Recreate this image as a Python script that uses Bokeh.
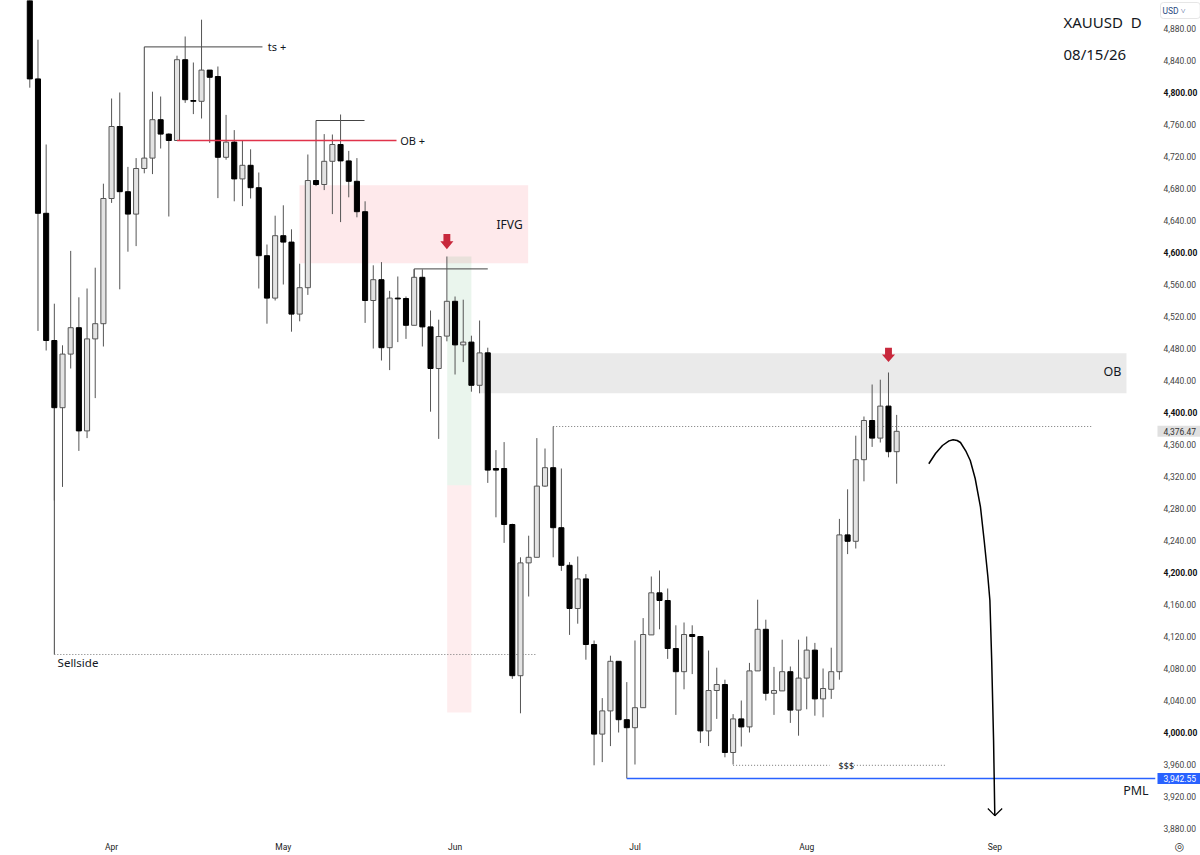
from bokeh.core.properties import value
from bokeh.embed import file_html
from bokeh.models import ColumnDataSource, FixedTicker, Label, NumeralTickFormatter, Range1d
from bokeh.plotting import figure
from bokeh.resources import INLINE

# daily bars, one row per session
opens = [4960, 4817, 4649, 4490, 4406, 4473, 4506, 4377, 4492, 4511, 4667.5, 4757.5, 4676, 4648, 4705, 4718, 4766, 4748,
         4740, 4841, 4790, 4789, 4828, 4820, 4719, 4738, 4692, 4709, 4681, 4596, 4543, 4621, 4613, 4523, 4556, 4690,
         4685, 4714, 4735, 4714.5, 4689, 4651, 4540, 4566, 4481, 4543, 4542.5, 4509, 4569, 4507, 4455, 4495.5, 4539,
         4484.5, 4488, 4434, 4474.6, 4330, 4330, 4260, 4071, 4212, 4219, 4308, 4331, 4256, 4209, 4155, 4192, 4110, 3998,
         4027, 4089, 4016, 4006, 4031, 4122, 4174.6, 4165, 4105, 4076, 4122.5, 4120, 4002, 4052.5, 4060, 3975, 4017,
         4007, 4077, 4129, 4049, 4052, 4076, 4028, 4068, 4103, 4042, 4054, 4076, 4247, 4239, 4341, 4390, 4368, 4408, 4351]
highs = [4975, 4866, 4735, 4536, 4484, 4602, 4544, 4555, 4581, 4686, 4792.5, 4800, 4707, 4718, 4718, 4801, 4795, 4749,
         4846, 4870, 4837.5, 4891, 4828, 4832.5, 4772, 4753, 4740, 4729, 4700, 4610, 4646, 4659, 4629, 4586, 4722.5, 4690,
         4748, 4747.5, 4772.5, 4727, 4718, 4664, 4584, 4588, 4552, 4570, 4545, 4579, 4579, 4527.5, 4516, 4595, 4545,
         4541, 4496, 4515, 4481, 4353, 4363, 4261, 4219, 4246, 4368, 4355, 4382.5, 4330, 4213, 4220, 4198, 4115, 4043,
         4096, 4089, 4063, 4115, 4143, 4195, 4202.5, 4180, 4134, 4137.5, 4134, 4120, 4102.5, 4081, 4066, 4023, 4040,
         4087, 4166, 4141, 4082, 4116, 4082.5, 4116, 4120, 4112, 4080, 4106, 4267, 4304, 4371, 4395, 4435, 4441, 4450, 4397]
lows = [4806, 4502, 4477.5, 4290, 4307, 4455, 4352, 4368, 4418, 4482.5, 4662, 4554, 4601, 4608, 4699, 4698, 4730, 4645,
        4740, 4787, 4773, 4767.5, 4737, 4668, 4716, 4664, 4658, 4667.5, 4555, 4511, 4540, 4560, 4501, 4514, 4547, 4683,
        4678, 4648, 4638, 4669, 4644, 4512, 4480, 4465, 4453, 4488, 4492, 4509, 4482.5, 4401, 4367, 4489, 4447.5,
        4463, 4426, 4424, 4312, 4269, 4237, 4067, 4024, 4170, 4219, 4307, 4219, 4202, 4122, 4136, 4091, 3959, 3963,
        3983, 4000, 3942.55, 3960, 4031, 4122, 4129, 4092, 4022, 4054, 4073, 3987, 3983, 4017, 3969, 3960, 3982.5,
        4000, 4077, 4040, 4022, 4052, 4012, 3996, 4029, 4021, 4019, 4042, 4066, 4223, 4230, 4314, 4357, 4362.5, 4344, 4311]
closes = [4817, 4649, 4490, 4406, 4473, 4506, 4377, 4492, 4511, 4667.5, 4757.5, 4676, 4648, 4705, 4718, 4766, 4748, 4740,
          4841, 4791, 4789, 4828, 4819, 4719, 4738, 4692, 4709, 4681, 4596, 4543, 4621, 4613, 4523, 4556, 4690, 4685,
          4714, 4735, 4714.5, 4689, 4651, 4540, 4566, 4481, 4543, 4542, 4509, 4569, 4507, 4455, 4495, 4539, 4484.5,
          4488, 4434, 4474.5, 4328, 4328, 4260, 4071, 4212, 4219, 4308, 4331, 4256, 4209, 4155, 4192, 4110, 3998, 4027,
          4089, 4016, 4006, 4031, 4122.5, 4174.6, 4165, 4105, 4076, 4122.5, 4120, 4002, 4052.5, 4060, 3975, 4017, 4007,
          4077, 4129, 4049, 4052.5, 4076, 4028, 4068, 4103, 4042, 4055, 4076, 4247, 4239, 4341, 4390, 4368, 4408, 4351, 4376.47]

month_ticks = [10, 31, 52, 74, 95, 118]
month_names = ["Apr", "May", "Jun", "Jul", "Aug", "Sep"]
price_ticks = list(range(3880, 4881, 40))
strong_ticks = [4000, 4200, 4400, 4600, 4800]

# drawings on top of the chart: zones, trend lines, dotted levels
zone_left = [32.98, 55.1, 51.04, 51.04]
zone_right = [60.94, 134.1, 54.0, 54.0]
zone_top = [4684, 4474, 4595, 4309]
zone_bottom = [4586.7, 4424, 4309, 4025]
zone_colors = ["#f23645", "#808080", "#2e9e4f", "#f23645"]
zone_alpha = [0.11, 0.17, 0.1, 0.09]

line_x0 = [14, 14, 35, 35, 47, 47, 3]
line_x1 = [14, 28.45, 35, 40.93, 47, 56, 3]
line_y0 = [4857, 4857, 4765, 4765, 4579.5, 4579.5, 4406]
line_y1 = [4718, 4857, 4690, 4765, 4569, 4579.5, 4097.5]

dot_x0 = [64, 3, 86, 100.4]
dot_x1 = [129.95, 61.96, 97.8, 112]
dot_y = [4382.5, 4097.5, 3959, 3959]

arrow_bar = [51, 105]
arrow_top = [4623, 4481]
arrow_neck = [4614, 4472.5]
arrow_tip = [4604, 4463]

curve_x = [109.93, 110.75, 111.6, 112.4, 112.9, 113.4, 113.8, 114.5, 115.0, 115.6, 116.25, 116.7, 117.15, 117.4, 117.62, 117.85, 118.0]
curve_y = [4335.9, 4348.75, 4358.75, 4364.5, 4365.9, 4365, 4362.5, 4351, 4340, 4317.5, 4281.6, 4240, 4195, 4165, 4090, 3990, 3896]
head_x = [117.15, 118.0, 118.9]
head_y = [3905, 3896, 3905]

note_text = ["ts +", "OB +", "IFVG", "OB", "Sellside", "$$$", "PML", "XAUUSD\u00a0 D", "08/15/26"]
note_x = [29.1, 45.3, 57.07, 131.3, 3.4, 98.9, 133.7, 126.4, 126.4]
note_y = [4857, 4740, 4635, 4451, 4087, 3959, 3928, 4888, 4848]
note_size = ["11px", "11px", "12px", "12.5px", "11.5px", "9px", "12.5px", "15px", "15px"]

bar_x = list(range(len(opens)))
bar_color = ["#000000" if c < o else "#e3e3e3" for o, c in zip(opens, closes)]
edge_color = ["#000000" if c < o else "#555555" for o, c in zip(opens, closes)]
source = ColumnDataSource(data=dict(
    x=bar_x,
    low=lows,
    high=highs,
    top=[max(o, c) for o, c in zip(opens, closes)],
    bottom=[min(o, c) for o, c in zip(opens, closes)],
    fill=bar_color,
    edge=edge_color,
))

p = figure(
    width=1200,
    height=855,
    frame_width=1155,
    frame_height=838,
    x_range=Range1d(-3.583, 137.65),
    y_range=Range1d(3867.5, 4915),
    y_axis_location="right",
    toolbar_location=None,
    output_backend="svg",
    min_border_left=0,
    min_border_top=0,
    min_border_right=45,
    min_border_bottom=17,
)
p.outline_line_color = None
p.grid.grid_line_color = None

p.quad(left=zone_left, right=zone_right, top=zone_top, bottom=zone_bottom,
       fill_color=zone_colors, fill_alpha=zone_alpha, line_color=None)

p.segment(x0=line_x0, y0=line_y0, x1=line_x1, y1=line_y1, line_color="#444444", line_width=1)
p.segment(x0=dot_x0, y0=dot_y, x1=dot_x1, y1=dot_y, line_color="#777777", line_width=1, line_dash="1 2")

p.segment(x0="x", y0="low", x1="x", y1="high", source=source, line_color="#555555", line_width=1)
p.vbar(x="x", top="top", bottom="bottom", width=0.62, source=source,
       fill_color="fill", line_color="edge", line_width=1)

p.line([18, 44.84], [4740, 4740], line_color="#e0334a", line_width=1.3)
p.line([73, 137.65], [3942.55, 3942.55], line_color="#2962ff", line_width=1.5)

for bar, top, neck, tip in zip(arrow_bar, arrow_top, arrow_neck, arrow_tip):
    p.patch(
        [bar - 0.42, bar + 0.42, bar + 0.42, bar + 0.8, bar, bar - 0.8, bar - 0.42],
        [top, top, neck, neck, tip, neck, neck],
        fill_color="#c8283c", line_color=None,
    )

p.line(curve_x, curve_y, line_color="#000000", line_width=1.5, line_join="round")
p.line(head_x, head_y, line_color="#000000", line_width=1.2)

p.text(x=note_x, y=note_y, text=note_text, text_font=value("Noto Sans"), text_font_size=note_size,
       text_color="#131722", text_baseline="middle", text_align="left")

# price scale, every 200 is printed darker so those go in as labels
p.yaxis.ticker = FixedTicker(ticks=price_ticks)
p.yaxis.formatter = NumeralTickFormatter(format="0,0.00")
p.yaxis.major_label_overrides = {t: "" for t in strong_ticks}
p.yaxis.axis_line_color = None
p.yaxis.major_tick_line_color = None
p.yaxis.minor_tick_line_color = None
p.yaxis.major_tick_out = 0
p.yaxis.major_tick_in = 0
p.yaxis.major_label_standoff = 8
p.yaxis.major_label_text_font = "Roboto"
p.yaxis.major_label_text_font_size = "8.5px"
p.yaxis.major_label_text_color = "#444444"

p.xaxis.ticker = FixedTicker(ticks=month_ticks)
p.xaxis.major_label_overrides = dict(zip(month_ticks, month_names))
p.xaxis.axis_line_color = None
p.xaxis.major_tick_line_color = None
p.xaxis.minor_tick_line_color = None
p.xaxis.major_tick_out = 0
p.xaxis.major_tick_in = 0
p.xaxis.major_label_standoff = 3
p.xaxis.major_label_text_font = "Roboto"
p.xaxis.major_label_text_font_size = "8.5px"
p.xaxis.major_label_text_color = "#222222"

tag_font = dict(text_font="Roboto", text_font_size="8.5px", text_baseline="middle", x_units="canvas")
for t in strong_ticks:
    p.add_layout(Label(x=1163, y=t, text=f"{t:,.2f}", text_color="#111111", text_font_style="bold", **tag_font), "right")

p.add_layout(Label(x=1157, y=4376.47, text="4,376.47", text_color="#333333",
                   background_fill_color="#e0e0e0", padding=(6, 2), **tag_font), "right")
p.add_layout(Label(x=1157, y=3942.55, text="3,942.55", text_color="#ffffff",
                   background_fill_color="#2962ff", padding=(6, 2), **tag_font), "right")
p.add_layout(Label(x=1160, y=4902.5, text="USD       ˅", text_color="#2a4a7f",
                   background_fill_color="#ffffff", border_line_color="#e6e6e6", padding=(2, 3),
                   border_radius=3, **tag_font), "right")
p.add_layout(Label(x=1179, y=3857.5, text="◎", text_font="DejaVu Sans", text_font_size="11px",
                   text_color="#333333", text_baseline="middle", text_align="center", x_units="canvas"), "right")

open("out.html", "w").write(file_html(p, INLINE))
